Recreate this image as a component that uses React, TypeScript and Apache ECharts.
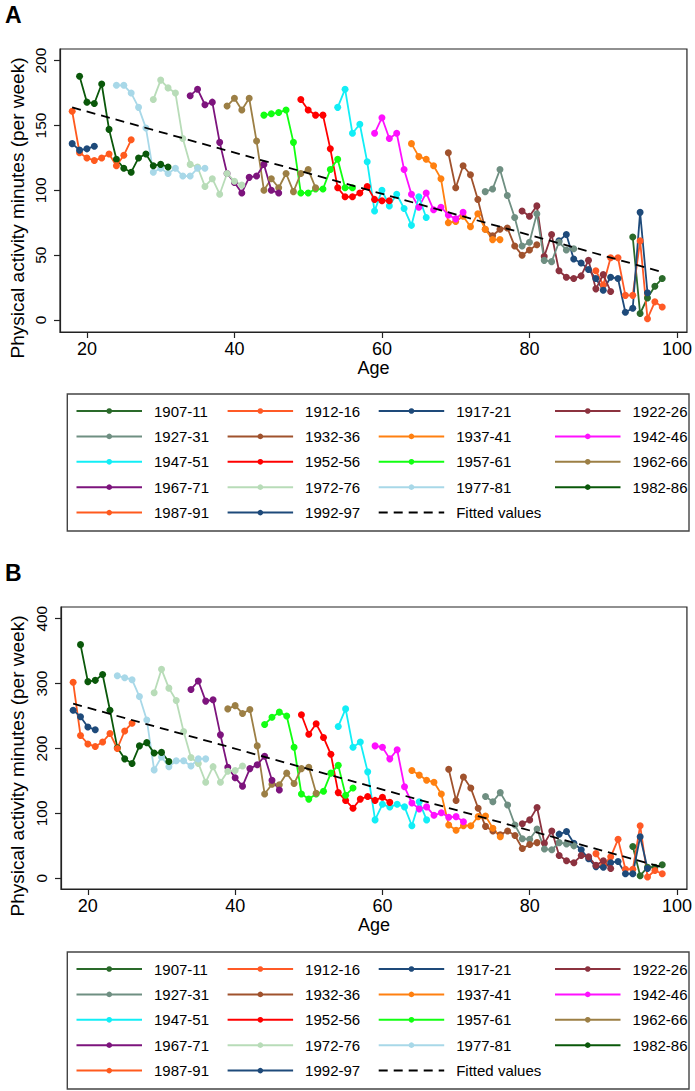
import React, { useEffect, useRef } from 'react';
import * as echarts from 'echarts';

const COHORTS = [
  '1907-11', '1912-16', '1917-21', '1922-26', '1927-31', '1932-36',
  '1937-41', '1942-46', '1947-51', '1952-56', '1957-61', '1962-66',
  '1967-71', '1972-76', '1977-81', '1982-86', '1987-91', '1992-97',
];
const COLORS = [
  '#2a6a2a', '#ff5a26', '#1e4a7a', '#8c323f', '#6f8f82', '#a0522d',
  '#ff8010', '#ff10ff', '#12eef6', '#ff0000', '#12ff12', '#9c7f45',
  '#7d147d', '#b8dcb8', '#a8d8e8', '#0a580a', '#ff5a1e', '#1e4a7a',
];
// first age observed for each cohort (consecutive ages follow)
const START_AGES = [94, 89, 84, 79, 74, 69, 64, 59, 54, 49, 44, 39, 34, 29, 24, 19, 18, 18];

// Panel A: physical activity minutes (per week)
const A_1907_11 = [64, 5, 17, 26, 32];
const A_1912_16 = [38, 27, 48, 48, 19, 19, 61, 1, 14, 10];
const A_1917_21 = [61, 66, 47, 44, 39, 32, 23, 33, 32, 6, 9, 83, 21];
const A_1922_26 = [84, 80, 88, 49, 66, 38, 33, 32, 34, 46, 24, 35, 22];
const A_1927_31 = [99, 101, 116, 96, 79, 57, 60, 82, 46, 45, 60, 54, 55];
const A_1932_36 = [129, 102, 119, 112, 93, 70, 65, 70, 71, 57, 50, 54, 58];
const A_1937_41 = [136, 126, 124, 119, 109, 75, 76, 80, 72, 82, 70, 62, 62];
const A_1942_46 = [144, 156, 140, 144, 116, 97, 87, 98, 85, 87, 81, 78, 83];
const A_1947_51 = [164, 178, 144, 151, 122, 84, 100, 88, 97, 86, 73, 95, 79];
const A_1952_56 = [170, 162, 158, 158, 132, 102, 95, 95, 98, 103, 93, 92, 92];
const A_1957_61 = [158, 159, 160, 162, 137, 98, 98, 101, 101, 116, 124, 102, 102];
const A_1962_66 = [165, 171, 162, 171, 138, 100, 109, 102, 113, 99, 113, 116, 102];
const A_1967_71 = [173, 178, 166, 168, 137, 113, 106, 98, 110, 111, 120, 100, 98];
const A_1972_76 = [170, 185, 179, 175, 140, 120, 118, 103, 109, 97, 113, 107, 104];
const A_1977_81 = [181, 181, 175, 164, 148, 114, 117, 113, 117, 111, 111, 117, 117];
const A_1982_86 = [188, 168, 167, 182, 147, 124, 117, 114, 125, 128, 119, 120, 118];
const A_1987_91 = [161, 129, 125, 123, 125, 128, 119, 127, 139];
const A_1992_97 = [136, 131, 132, 134];

// Panel B
const B_1907_11 = [49, 4, 17, 17, 21];
const B_1912_16 = [38, 20, 33, 60, 14, 14, 81, 2, 12, 7];
const B_1917_21 = [68, 72, 54, 44, 30, 18, 17, 24, 26, 7, 7, 64, 15];
const B_1922_26 = [84, 90, 109, 54, 73, 35, 27, 24, 35, 33, 20, 27, 15];
const B_1927_31 = [126, 118, 132, 113, 82, 61, 60, 76, 45, 44, 55, 53, 50];
const B_1932_36 = [168, 120, 156, 139, 108, 80, 73, 67, 73, 66, 46, 52, 55];
const B_1937_41 = [166, 159, 151, 148, 130, 82, 74, 81, 81, 95, 96, 77, 64];
const B_1942_46 = [204, 202, 184, 198, 141, 116, 107, 110, 97, 101, 94, 95, 87];
const B_1947_51 = [234, 261, 202, 210, 164, 90, 114, 110, 114, 110, 81, 118, 90];
const B_1952_56 = [252, 222, 238, 217, 191, 132, 120, 108, 122, 126, 120, 125, 117];
const B_1957_61 = [237, 248, 256, 250, 202, 130, 122, 130, 134, 162, 174, 128, 139];
const B_1962_66 = [261, 266, 254, 260, 204, 130, 145, 144, 162, 146, 169, 171, 131];
const B_1967_71 = [291, 304, 273, 275, 221, 171, 155, 142, 169, 175, 188, 151, 136];
const B_1972_76 = [286, 322, 293, 274, 226, 186, 177, 148, 172, 148, 165, 166, 173];
const B_1977_81 = [312, 309, 306, 280, 244, 167, 187, 172, 181, 181, 173, 184, 184];
const B_1982_86 = [360, 303, 305, 314, 259, 201, 184, 177, 204, 209, 193, 194, 180];
const B_1987_91 = [302, 220, 207, 203, 210, 223, 200, 227, 239];
const B_1992_97 = [259, 249, 233, 229];

const FITTED_A = [[18, 164], [98, 37]];
const FITTED_B = [[18, 269], [98, 17]];

const X_TICKS = [20, 40, 60, 80, 100];
const Y_TICKS_A = [0, 50, 100, 150, 200];
const Y_TICKS_B = [0, 100, 200, 300, 400];

const PANEL_A = [A_1907_11, A_1912_16, A_1917_21, A_1922_26, A_1927_31, A_1932_36, A_1937_41, A_1942_46, A_1947_51, A_1952_56, A_1957_61, A_1962_66, A_1967_71, A_1972_76, A_1977_81, A_1982_86, A_1987_91, A_1992_97];
const PANEL_B = [B_1907_11, B_1912_16, B_1917_21, B_1922_26, B_1927_31, B_1932_36, B_1937_41, B_1942_46, B_1947_51, B_1952_56, B_1957_61, B_1962_66, B_1967_71, B_1972_76, B_1977_81, B_1982_86, B_1987_91, B_1992_97];

const LEGEND_COLS = [
  ['1907-11', '1927-31', '1947-51', '1967-71', '1987-91'],
  ['1912-16', '1932-36', '1952-56', '1972-76', '1992-97'],
  ['1917-21', '1937-41', '1957-61', '1977-81', 'Fitted values'],
  ['1922-26', '1942-46', '1962-66', '1982-86'],
];

const FONT = '"Liberation Sans", Arial, Helvetica, sans-serif';
const OFFSET_B = 558;
const AXIS_COLOR = '#222';

function makeX(gridIndex: number) {
  return {
    type: 'value', gridIndex, min: 16.35, max: 101.35,
    name: 'Age', nameLocation: 'middle', nameGap: 27,
    nameTextStyle: { fontFamily: FONT, fontSize: 18, color: '#000' },
    axisLine: { show: true, onZero: false, lineStyle: { color: AXIS_COLOR, width: 1.2 } },
    axisTick: { show: true, length: 6, customValues: X_TICKS, lineStyle: { color: AXIS_COLOR, width: 1.2 } },
    axisLabel: { customValues: X_TICKS, fontFamily: FONT, fontSize: 18, color: '#000', margin: 8 },
    splitLine: { show: false },
  };
}

function makeY(gridIndex: number, min: number, max: number, ticks: number[]) {
  return {
    type: 'value', gridIndex, min, max,
    axisLine: { show: true, onZero: false, lineStyle: { color: AXIS_COLOR, width: 1.2 } },
    axisTick: { show: true, length: 6, customValues: ticks, lineStyle: { color: AXIS_COLOR, width: 1.2 } },
    axisLabel: { customValues: ticks, rotate: 90, fontFamily: FONT, fontSize: 15.5, color: '#000', margin: 12 },
    splitLine: { show: false },
  };
}

function makeLegend(names: string[], left: number, top: number) {
  return {
    data: names, orient: 'vertical', left, top, padding: 0,
    itemWidth: 65.5, itemHeight: 7, itemGap: 9.4, selectedMode: false,
    textStyle: { fontFamily: FONT, fontSize: 15, color: '#000', lineHeight: 16, padding: [0, 0, 0, 7] },
  };
}

function buildOption() {
  const series: any[] = [];
  [PANEL_A, PANEL_B].forEach((panel, p) => {
    panel.forEach((vals, i) => {
      series.push({
        type: 'line', name: COHORTS[i], xAxisIndex: p, yAxisIndex: p,
        data: vals.map((v, k) => [START_AGES[i] + k, v]),
        symbol: 'circle', symbolSize: 7, showSymbol: true,
        lineStyle: { color: COLORS[i], width: 1.8 },
        itemStyle: { color: COLORS[i] },
        emphasis: { disabled: true },
      });
    });
    series.push({
      type: 'line', name: 'Fitted values', xAxisIndex: p, yAxisIndex: p,
      data: p === 0 ? FITTED_A : FITTED_B,
      symbol: 'none', showSymbol: false,
      lineStyle: { color: '#000', width: 1.8, type: [9, 6] },
      itemStyle: { color: 'rgba(0,0,0,0)' },
      emphasis: { disabled: true },
      z: 5,
    });
  });

  const colLefts = [75.5, 226.6, 377.7, 554];
  const legends: any[] = [];
  [0, OFFSET_B].forEach((off) => {
    LEGEND_COLS.forEach((names, c) => legends.push(makeLegend(names, colLefts[c], 403 + off)));
  });

  const graphics: any[] = [];
  [0, OFFSET_B].forEach((off, p) => {
    graphics.push({
      type: 'text', left: 5, top: 3 + off,
      style: { text: p === 0 ? 'A' : 'B', font: `bold 23px ${FONT}`, fill: '#000' },
    });
    graphics.push({
      type: 'text', x: 17, y: 208 + off, rotation: Math.PI / 2,
      style: {
        text: 'Physical activity minutes (per week)', font: `19px ${FONT}`, fill: '#000',
        align: 'center', verticalAlign: 'middle',
      },
    });
    graphics.push({
      type: 'rect', shape: { x: 67.3, y: 394 + off, width: 621.7, height: 137 },
      style: { fill: 'none', stroke: '#444', lineWidth: 1.4 }, z: 0,
    });
  });

  return {
    animation: false,
    backgroundColor: '#fff',
    grid: [
      { left: 60, top: 49, width: 629, height: 283, show: true, borderColor: AXIS_COLOR, borderWidth: 1.2, backgroundColor: 'transparent' },
      { left: 61, top: 607, width: 628, height: 282, show: true, borderColor: AXIS_COLOR, borderWidth: 1.2, backgroundColor: 'transparent' },
    ],
    xAxis: [makeX(0), makeX(1)],
    yAxis: [makeY(0, -9.26, 209, Y_TICKS_A), makeY(1, -16.5, 418, Y_TICKS_B)],
    legend: legends,
    graphic: graphics,
    series,
  };
}

export default function App() {
  const ref = useRef<HTMLDivElement>(null);
  useEffect(() => {
    if (!ref.current) return;
    const chart = echarts.init(ref.current, undefined, { renderer: 'svg' });
    chart.setOption(buildOption() as any);
    return () => chart.dispose();
  }, []);
  return (
    <div
      ref={ref}
      style={{ position: 'absolute', left: 0, top: 0, width: 695, height: 1091, background: '#fff' }}
    />
  );
}
